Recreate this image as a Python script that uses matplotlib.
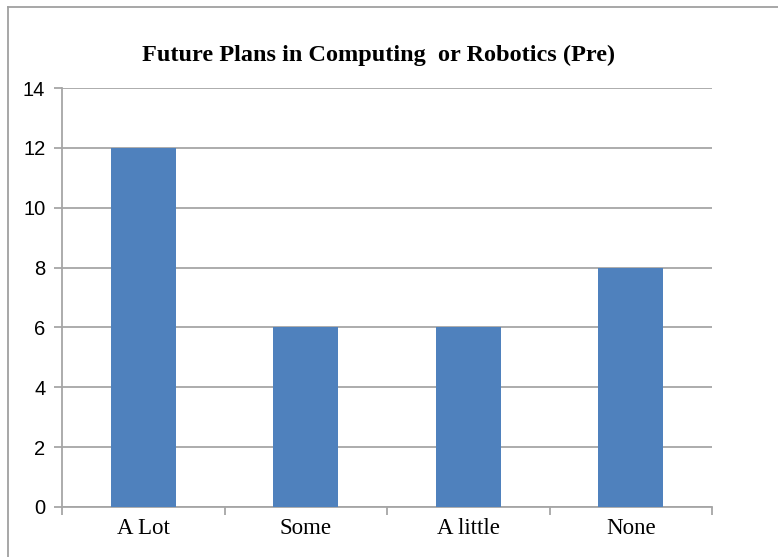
import numpy as np
import matplotlib.pyplot as plt
from matplotlib.lines import Line2D

categories = ["A Lot", "Some", "A little", "None"]
counts = [12, 6, 6, 8]
y_ticks = [0, 2, 4, 6, 8, 10, 12, 14]

grid_col = "#a6a6a6"
bar_col = "#4f81bd"

fig = plt.figure(figsize=(7.78, 5.57), dpi=100)
ax = fig.add_axes([0.0797, 0.0898, 0.8355, 0.7522])

x = np.arange(len(categories))
ax.bar(x, counts, width=0.4, color=bar_col, zorder=3)

ax.set_xlim(-0.5, len(categories) - 0.5)
ax.set_ylim(0, 14)
ax.set_yticks(y_ticks)
ax.yaxis.grid(True, color=grid_col, linewidth=1.3, zorder=0)

# category labels centred, tick marks on the boundaries
ax.set_xticks(x)
ax.set_xticklabels(categories, fontfamily="Liberation Serif", fontsize=16.5)
ax.tick_params(axis="x", which="major", length=0, pad=8)
ax.set_xticks(np.arange(-0.5, len(categories)), minor=True)
ax.tick_params(axis="x", which="minor", length=6, width=1.3, color=grid_col)
ax.tick_params(axis="y", length=6, width=1.3, color=grid_col, pad=6)
for lab in ax.get_yticklabels():
    lab.set_fontfamily("Liberation Sans")
    lab.set_fontsize(14.5)

for side in ["top", "right"]:
    ax.spines[side].set_visible(False)
for side in ["left", "bottom"]:
    ax.spines[side].set_color(grid_col)
    ax.spines[side].set_linewidth(1.3)

fig.text(0.487, 0.9, "Future Plans in Computing  or Robotics (Pre)",
         ha="center", va="center", fontfamily="Liberation Serif",
         fontweight="bold", fontsize=17.5)

# outer frame, top and left edges only
fig.add_artist(Line2D([8 / 778, 1], [1 - 7 / 557] * 2, color="#a0a0a0", lw=1.3))
fig.add_artist(Line2D([8 / 778] * 2, [0, 1 - 7 / 557], color="#a0a0a0", lw=1.3))

fig.savefig("out.png", dpi=100)
